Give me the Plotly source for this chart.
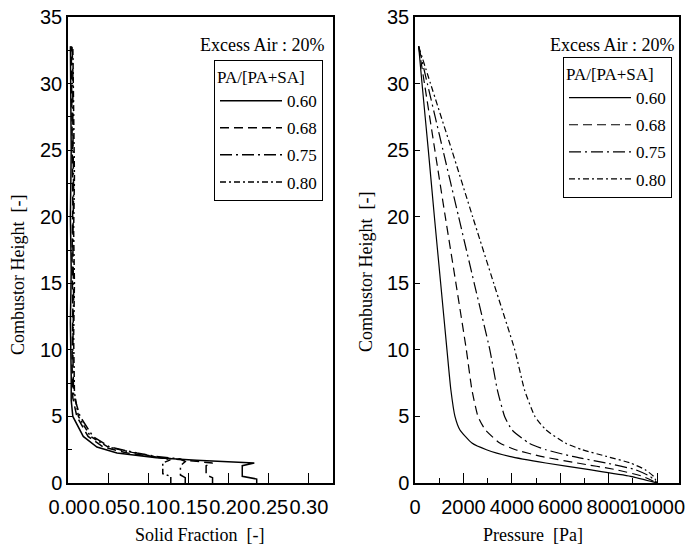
import plotly.graph_objects as go

# ---------------- data ----------------
ratios = ["0.60", "0.68", "0.75", "0.80"]

# Left panel: solid fraction vs combustor height
h_sf_060 = [0, 0.3, 0.5, 1.3, 1.5, 1.55, 1.7, 1.9, 2.25, 2.7, 3.5, 5.0, 6.2, 8, 12, 16, 20, 25, 30, 32.8]
sf_060 = [0.235, 0.235, 0.217, 0.217, 0.232, 0.21, 0.16, 0.11, 0.061, 0.036, 0.019, 0.006, 0.004, 0.004, 0.003, 0.004, 0.003, 0.004, 0.003, 0.003]
h_sf_068 = [0, 0.4, 0.6, 1.3, 1.5, 1.7, 1.95, 2.25, 2.7, 3.5, 5.0, 6.4, 9, 13, 17, 21, 26, 30, 32.8]
sf_068 = [0.18, 0.18, 0.172, 0.172, 0.18, 0.15, 0.11, 0.074, 0.044, 0.025, 0.011, 0.006, 0.005, 0.006, 0.005, 0.006, 0.005, 0.005, 0.004]
h_sf_075 = [0, 0.4, 0.6, 1.3, 1.6, 1.8, 2.0, 2.25, 2.7, 3.5, 5.0, 6.6, 10, 14, 18, 22, 27, 31, 32.8]
sf_075 = [0.146, 0.146, 0.14, 0.14, 0.146, 0.14, 0.11, 0.086, 0.052, 0.031, 0.015, 0.007, 0.006, 0.007, 0.006, 0.007, 0.006, 0.006, 0.005]
h_sf_080 = [0, 0.5, 0.7, 1.5, 1.75, 2.0, 2.3, 2.7, 3.5, 5.0, 6.8, 11, 15, 19, 23, 28, 32.8]
sf_080 = [0.128, 0.128, 0.118, 0.118, 0.128, 0.105, 0.08, 0.05, 0.028, 0.013, 0.008, 0.007, 0.008, 0.007, 0.008, 0.007, 0.006]

# Right panel: pressure vs combustor height
h_p = [32.8, 30, 25, 20, 15, 10, 7, 5, 4, 3, 2.5, 2, 1.5, 1, 0.5, 0]
p_060 = [150, 290, 550, 800, 1060, 1320, 1480, 1650, 1850, 2350, 2950, 3900, 5400, 7200, 8900, 10000]
p_068 = [150, 390, 820, 1250, 1690, 2120, 2350, 2600, 2900, 3500, 4150, 5200, 6700, 8300, 9400, 10000]
p_075 = [150, 510, 1155, 1800, 2445, 3090, 3400, 3700, 4000, 4700, 5400, 6500, 7900, 9100, 9700, 10000]
p_080 = [150, 640, 1520, 2380, 3250, 4120, 4520, 4950, 5400, 6200, 6900, 7900, 8900, 9500, 9850, 10000]

left_x = [sf_060, sf_068, sf_075, sf_080]
left_y = [h_sf_060, h_sf_068, h_sf_075, h_sf_080]
right_x = [p_060, p_068, p_075, p_080]

dashes = ["solid", "9px,5px", "12px,4px,2px,4px", "6px,3px,2px,3px"]

W, H = 685, 553
SERIF = "Liberation Serif"
SANS = "Liberation Sans"

fig = go.Figure()
for i, r in enumerate(ratios):
    fig.add_trace(go.Scatter(
        x=left_x[i], y=left_y[i], mode="lines", name=r,
        line=dict(color="black", width=1.5, dash=dashes[i]),
        xaxis="x", yaxis="y", legend="legend", legendgroup="a" + r,
    ))
for i, r in enumerate(ratios):
    fig.add_trace(go.Scatter(
        x=right_x[i], y=h_p, mode="lines", name=r,
        line=dict(color="black", width=1.2, dash=dashes[i], shape="spline", smoothing=0.5),
        xaxis="x2", yaxis="y2", legend="legend2", legendgroup="b" + r,
    ))

def px_x(p):
    return p / W

def px_y(p):
    return 1 - p / H

axis_common = dict(
    showline=True, linecolor="black", linewidth=1.5, mirror=True,
    showgrid=False, zeroline=False, ticks="inside", tickcolor="black",
    automargin=False, tickangle=0,
    tickfont=dict(family=SANS, size=20, color="black"),
)

ydom = [px_y(483), px_y(17)]
legend_common = dict(
    bordercolor="black", borderwidth=1, bgcolor="white",
    font=dict(family=SERIF, size=17, color="black"),
    title=dict(text="PA/[PA+SA]", font=dict(family=SERIF, size=17, color="black")),
    tracegroupgap=2, itemwidth=62,
)
fig.update_layout(
    width=W, height=H,
    margin=dict(l=0, r=0, t=0, b=0),
    paper_bgcolor="white", plot_bgcolor="white",
    xaxis=dict(domain=[px_x(68), px_x(333)], range=[0, 0.33], dtick=0.05, tick0=0,
               tickformat=".2f", ticklen=10, anchor="y", ticklabeloverflow="allow",
               ticklabelstandoff=5, **axis_common),
    yaxis=dict(domain=ydom, range=[0, 35], dtick=5, ticklen=5, anchor="x",
               minor=dict(dtick=2.5, ticks="inside", ticklen=4, tickcolor="black"),
               **axis_common),
    xaxis2=dict(domain=[px_x(415), px_x(679)], range=[0, 10900], dtick=2000, tick0=0,
                tickformat="d", ticklen=10, anchor="y2", ticklabeloverflow="allow",
                ticklabelstandoff=5,
                minor=dict(dtick=1000, ticks="inside", ticklen=5, tickcolor="black"),
                **axis_common),
    yaxis2=dict(domain=ydom, range=[0, 35], dtick=5, ticklen=5, anchor="x2", **axis_common),
    legend=dict(x=px_x(323), xanchor="right", y=px_y(60), yanchor="top", **legend_common),
    legend2=dict(x=px_x(672), xanchor="right", y=px_y(57), yanchor="top", **legend_common),
    showlegend=True,
)

ann_font = dict(family=SERIF, size=18, color="black")
annotations = [
    dict(text="Excess Air : 20%", x=px_x(326), y=px_y(45), xanchor="right", yanchor="middle"),
    dict(text="Excess Air : 20%", x=px_x(676), y=px_y(45), xanchor="right", yanchor="middle"),
    dict(text="Solid Fraction  [-]", x=px_x(200), y=px_y(535), xanchor="center", yanchor="middle"),
    dict(text="Pressure  [Pa]", x=px_x(533), y=px_y(535), xanchor="center", yanchor="middle"),
    dict(text="Combustor Height  [-]", x=px_x(18), y=px_y(275), xanchor="center", yanchor="middle", textangle=-90),
    dict(text="Combustor Height  [-]", x=px_x(366), y=px_y(272), xanchor="center", yanchor="middle", textangle=-90),
]
for a in annotations:
    a.update(xref="paper", yref="paper", showarrow=False, font=ann_font)
fig.update_layout(annotations=annotations)

fig.write_html("out.html", config={"displayModeBar": False},
               post_script="document.body.style.margin='0';document.body.style.overflow='hidden';")
